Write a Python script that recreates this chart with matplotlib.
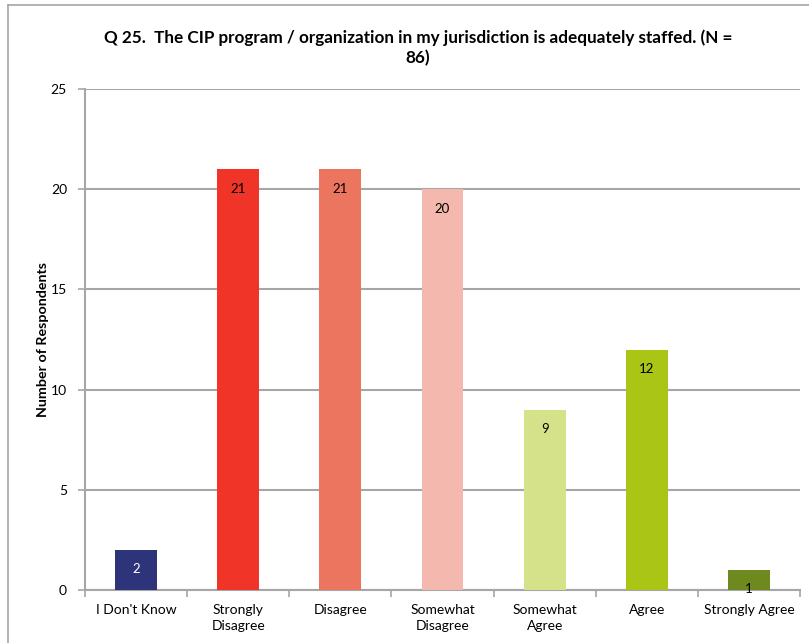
import matplotlib.pyplot as plt
from matplotlib.lines import Line2D

categories = ["I Don't Know", "Strongly\nDisagree", "Disagree", "Somewhat\nDisagree",
              "Somewhat\nAgree", "Agree", "Strongly Agree"]
counts = [2, 21, 21, 20, 9, 12, 1]
colors = ["#2E3479", "#F03427", "#EC7560", "#F5B8AE", "#D5E28A", "#AAC516", "#6E8A1E"]
label_colors = ["white", "black", "black", "black", "black", "black", "black"]

plt.rcParams['font.family'] = ['Lato', 'DejaVu Sans']

fig = plt.figure(figsize=(8.09, 6.43), dpi=100)
ax = fig.add_axes([85 / 809, 1 - 590 / 643, 715 / 809, 501 / 643])

x = list(range(len(categories)))
bars = ax.bar(x, counts, width=0.41, color=colors, zorder=3)

for b, v, c in zip(bars, counts, label_colors):
    ax.annotate(str(v), (b.get_x() + b.get_width() / 2, v), xytext=(0, -14),
                textcoords="offset points", ha="center", va="center",
                fontsize=9.5, color=c, zorder=4)

ax.set_xlim(-0.5, len(categories) - 0.5)
ax.set_ylim(0, 25)
ax.set_yticks([0, 5, 10, 15, 20, 25])
ax.yaxis.grid(True, color="#A6A6A6", linewidth=1.5, zorder=0)
ax.set_axisbelow(True)

ax.set_xticks(x)
ax.set_xticklabels(categories, fontsize=10, linespacing=1.45)
ax.set_xticks([i + 0.5 for i in range(-1, len(categories))], minor=True)
ax.tick_params(axis="x", which="major", length=0, pad=10)
ax.tick_params(axis="x", which="minor", length=5, color="#A6A6A6", width=1.2)
ax.tick_params(axis="y", length=5, color="#A6A6A6", width=1.2, labelsize=10, pad=8)

for s in ["top", "right"]:
    ax.spines[s].set_visible(False)
for s in ["left", "bottom"]:
    ax.spines[s].set_color("#A6A6A6")
    ax.spines[s].set_linewidth(1.5)

ax.set_ylabel("Number of Respondents", fontsize=10.3, fontweight="bold", labelpad=1)

fig.text(418 / 809, 1 - 48 / 643,
         "Q 25.  The CIP program / organization in my jurisdiction is adequately staffed. (N =\n86)",
         ha="center", va="center", fontsize=12.3, fontweight="bold", linespacing=1.35)

# outer chart frame
fig.add_artist(Line2D([8 / 809, 8 / 809], [0, 1 - 5 / 643], color="#A6A6A6", linewidth=1.2))
fig.add_artist(Line2D([8 / 809, 1], [1 - 5 / 643, 1 - 5 / 643], color="#A6A6A6", linewidth=1.2))

fig.savefig("out.png", dpi=100)
